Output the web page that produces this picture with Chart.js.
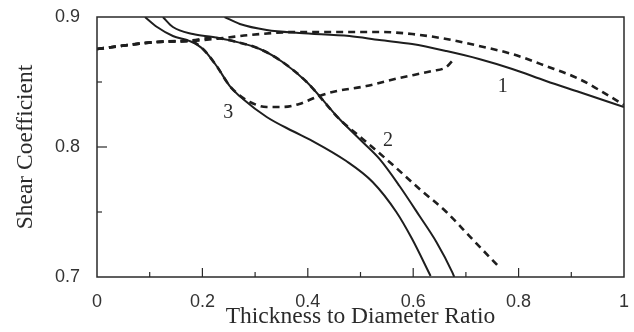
<!DOCTYPE html>
<html>
<head>
<meta charset="utf-8">
<script src="https://cdn.jsdelivr.net/npm/chart.js@4/dist/chart.umd.min.js"></script>
<style>
  html, body { margin: 0; padding: 0; background: #fff; }
  #wrap { width: 634px; height: 332px; position: relative; }
</style>
</head>
<body>
<div id="wrap"><canvas id="shearChart"></canvas></div>
<script>
// --- data (x = thickness/diameter, y = shear coefficient) ---
const solid1X = [0.242, 0.271, 0.322, 0.384, 0.479, 0.536, 0.598, 0.663, 0.725, 0.788, 0.852, 0.915, 1.0];
const solid1Y = [0.900, 0.8946, 0.890, 0.8877, 0.8854, 0.8823, 0.8792, 0.8738, 0.8677, 0.860, 0.8508, 0.8423, 0.8308];

const dashed1X = [0, 0.114, 0.176, 0.239, 0.290, 0.384, 0.447, 0.536, 0.598, 0.663, 0.725, 0.788, 0.852, 0.915, 0.972, 1.0];
const dashed1Y = [0.8754, 0.8808, 0.8815, 0.8838, 0.8862, 0.8885, 0.8885, 0.8885, 0.8869, 0.8831, 0.8777, 0.8715, 0.8623, 0.8523, 0.8392, 0.8323];

const solid2X = [0.125, 0.144, 0.182, 0.220, 0.258, 0.309, 0.352, 0.398, 0.460, 0.504, 0.536, 0.574, 0.612, 0.644, 0.674, 0.678];
const solid2Y = [0.900, 0.8923, 0.8869, 0.8846, 0.8815, 0.8754, 0.8654, 0.850, 0.8215, 0.8038, 0.7908, 0.770, 0.7469, 0.7269, 0.7038, 0.700];

const dashed2X = [0, 0.114, 0.176, 0.220, 0.258, 0.309, 0.352, 0.398, 0.460, 0.504, 0.555, 0.612, 0.663, 0.712, 0.763];
const dashed2Y = [0.8754, 0.8808, 0.8818, 0.8840, 0.8815, 0.8754, 0.8654, 0.850, 0.8215, 0.8062, 0.7885, 0.7677, 0.750, 0.7292, 0.7077];

const solid3X = [0.091, 0.114, 0.144, 0.176, 0.201, 0.227, 0.252, 0.277, 0.322, 0.371, 0.409, 0.473, 0.523, 0.568, 0.598, 0.633];
const solid3Y = [0.900, 0.8923, 0.8854, 0.8815, 0.8754, 0.8623, 0.8469, 0.8369, 0.8231, 0.8123, 0.8046, 0.7892, 0.7731, 0.750, 0.7292, 0.7008];

const dashed3X = [0, 0.114, 0.176, 0.201, 0.227, 0.252, 0.270, 0.290, 0.322, 0.352, 0.384, 0.417, 0.447, 0.511, 0.574, 0.636, 0.663, 0.674];
const dashed3Y = [0.8754, 0.8808, 0.8815, 0.8754, 0.8623, 0.8469, 0.8400, 0.8346, 0.8308, 0.8308, 0.8331, 0.8385, 0.8423, 0.8469, 0.8531, 0.8585, 0.8615, 0.8662];

const curveLabels = ["1", "2", "3"];
const curveLabelX = [0.770, 0.552, 0.249];
const curveLabelY = [0.846, 0.805, 0.826];

const xTickValues = [0, 0.2, 0.4, 0.6, 0.8, 1];
const yTickValues = [0.7, 0.8, 0.9];

const toPoints = (xs, ys) => xs.map((x, i) => ({ x: x, y: ys[i] }));

function lineSet(label, xs, ys, dashed) {
    return {
        label: label,
        data: toPoints(xs, ys),
        borderColor: '#1e1e1e',
        borderWidth: dashed ? 2.6 : 2,
        borderDash: dashed ? [7, 5] : [],
        pointRadius: 0,
        cubicInterpolationMode: 'monotone',
        fill: false
    };
}

// frame, inward ticks and curve numbers
const framePlugin = {
    id: 'frame',
    afterDatasetsDraw(chart) {
        const { ctx, chartArea: a, scales } = chart;
        ctx.save();
        ctx.strokeStyle = '#2a2a2a';
        ctx.lineWidth = 1.5;
        ctx.strokeRect(a.left, a.top, a.right - a.left, a.bottom - a.top);

        ctx.lineWidth = 1.2;
        for (let i = 1; i < 10; i++) {
            const px = scales.x.getPixelForValue(i / 10);
            const len = i % 2 === 0 ? 9 : 5;
            ctx.beginPath();
            ctx.moveTo(px, a.bottom);
            ctx.lineTo(px, a.bottom - len);
            ctx.stroke();
        }
        [0.75, 0.8, 0.85].forEach(v => {
            const py = scales.y.getPixelForValue(v);
            const len = Math.abs(v - 0.8) < 1e-6 ? 10 : 5;
            ctx.beginPath();
            ctx.moveTo(a.left, py);
            ctx.lineTo(a.left + len, py);
            ctx.stroke();
        });

        ctx.fillStyle = '#2a2a2a';
        ctx.font = "20px 'Liberation Serif', serif";
        ctx.textAlign = 'center';
        ctx.textBaseline = 'middle';
        curveLabels.forEach((t, i) => {
            ctx.fillText(t, scales.x.getPixelForValue(curveLabelX[i]), scales.y.getPixelForValue(curveLabelY[i]));
        });
        ctx.restore();
    }
};

const ctx = document.getElementById('shearChart').getContext('2d');
new Chart(ctx, {
    type: 'line',
    data: {
        datasets: [
            lineSet('1 solid', solid1X, solid1Y, false),
            lineSet('1 dashed', dashed1X, dashed1Y, true),
            lineSet('2 solid', solid2X, solid2Y, false),
            lineSet('2 dashed', dashed2X, dashed2Y, true),
            lineSet('3 solid', solid3X, solid3Y, false),
            lineSet('3 dashed', dashed3X, dashed3Y, true)
        ]
    },
    options: {
        responsive: true,
        maintainAspectRatio: false,
        animation: false,
        layout: { padding: { left: 0, right: 10, top: 17, bottom: 0 } },
        plugins: {
            legend: { display: false },
            tooltip: { enabled: false }
        },
        scales: {
            x: {
                type: 'linear',
                min: 0,
                max: 1,
                afterFit: s => { s.height = 55; s.paddingLeft = 0; s.paddingRight = 0; },
                afterBuildTicks: s => { s.ticks = xTickValues.map(v => ({ value: v })); },
                grid: { display: false, drawTicks: false },
                border: { display: false },
                ticks: {
                    color: '#333',
                    padding: 14,
                    maxRotation: 0,
                    font: { size: 18, family: "'Liberation Sans', Arial, sans-serif" },
                    callback: v => String(v)
                },
                title: {
                    display: true,
                    text: 'Thickness to Diameter Ratio',
                    color: '#2a2a2a',
                    font: { size: 23.5, family: "'Liberation Serif', serif" },
                    padding: { top: 0, bottom: 1 }
                }
            },
            y: {
                type: 'linear',
                min: 0.7,
                max: 0.9,
                afterFit: s => { s.width = 97; s.paddingTop = 0; s.paddingBottom = 0; },
                afterBuildTicks: s => { s.ticks = yTickValues.map(v => ({ value: v })); },
                grid: { display: false, drawTicks: false },
                border: { display: false },
                ticks: {
                    color: '#333',
                    padding: 17,
                    font: { size: 18, family: "'Liberation Sans', Arial, sans-serif" },
                    callback: v => v.toFixed(1)
                },
                title: {
                    display: true,
                    text: 'Shear Coefficient',
                    color: '#2a2a2a',
                    font: { size: 23.5, family: "'Liberation Serif', serif" },
                    padding: { top: 12, bottom: 0 }
                }
            }
        }
    },
    plugins: [framePlugin]
});
</script>
</body>
</html>
